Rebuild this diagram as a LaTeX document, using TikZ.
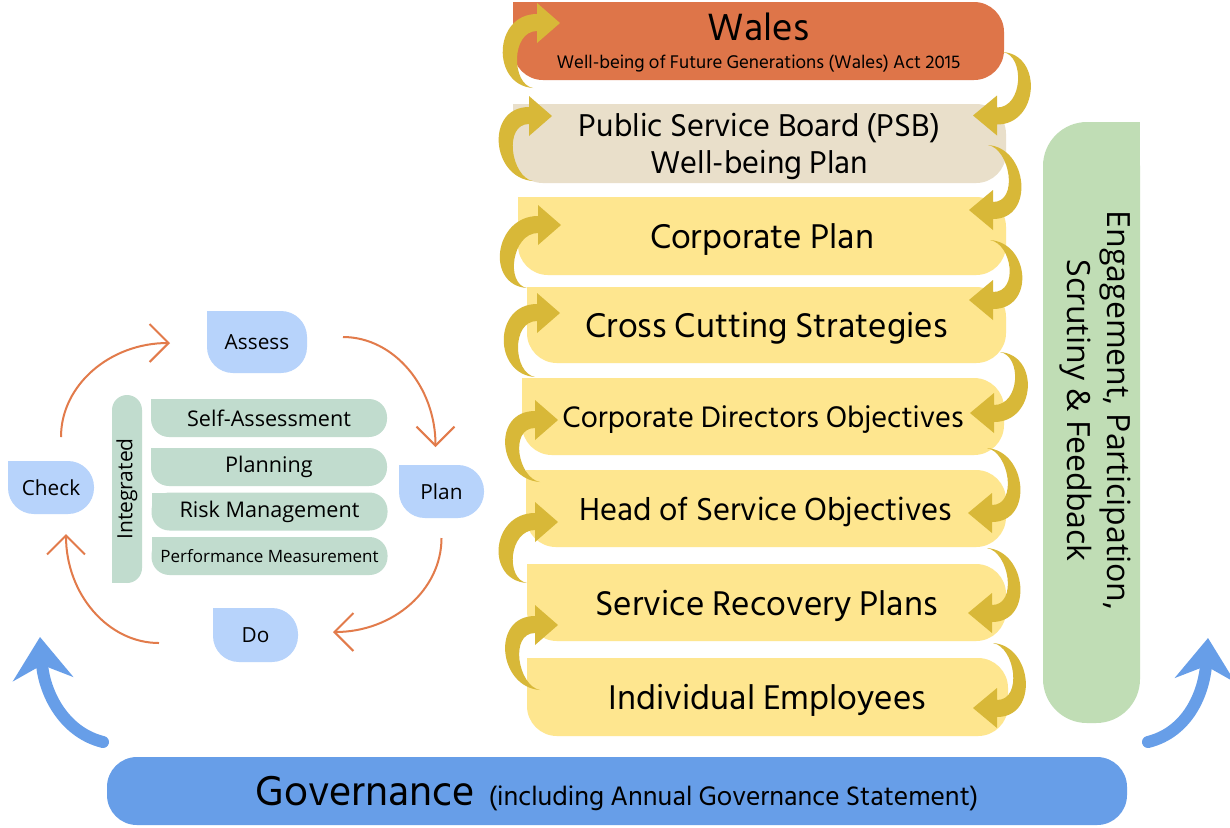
\documentclass[tikz,border=0pt]{standalone}
\usepackage{fontspec}
\setmainfont{Hind Siliguri}
\newfontfamily\opensans{Open Sans}
\usetikzlibrary{arrows.meta, positioning, calc, backgrounds}
\definecolor{cwales}{HTML}{DE7549}
\definecolor{cpsb}{HTML}{E9DFCA}
\definecolor{cplan}{HTML}{FEE68F}
\definecolor{ccurl}{HTML}{D8B838}
\definecolor{ceng}{HTML}{C0DDB5}
\definecolor{cgov}{HTML}{679EE8}
\definecolor{cpdca}{HTML}{B7D3FB}
\definecolor{csage}{HTML}{C1DCCE}
\definecolor{ccycle}{HTML}{E27B4B}
\tikzset{
  lvlbox/.style={fill=cplan, rounded corners=15pt, inner sep=0pt, outer sep=0pt,
                 align=center, text=black, text depth=0pt, font=\fontsize{17.6}{21}\selectfont},
  pdcabox/.style={fill=cpdca, rounded corners=13pt, inner sep=0pt, outer sep=0pt,
                  font=\opensans\fontsize{10.4}{12}\selectfont},
  sagebox/.style={fill=csage, rounded corners=9pt, inner sep=0pt, outer sep=0pt,
                  minimum width=118pt, minimum height=19pt,
                  font=\opensans\fontsize{10.8}{12}\selectfont},
  curl/.style={fill=ccurl},
  cyc/.style={draw=ccycle, line width=1pt, -{Straight Barb[length=9.5pt, width=19pt]}},
  govarr/.style={draw=cgov, line width=6pt, line cap=round,
                 -{Stealth[length=21pt, width=30pt, inset=7pt]}},
}
% downward curl: from #1 (tail shift #2) into #3 (tip shift #4)
\newcommand\downcurl[4]{%
  \coordinate (cs) at ($(#1.east)+(#2)$);
  \coordinate (ct) at ($(#3.east)+(#4)$);
  \fill[curl] (cs) .. controls +(40,3) and +(42,0) .. ($(ct)+(24,9)$)
    -- ($(ct)+(24,20)$) -- (ct) -- ($(ct)+(24,-20)$) -- ($(ct)+(24,-8)$)
    .. controls +(26,0) and +(22,4) .. (cs) -- cycle;
}
% upward curl: from #1 (tail shift #2) into #3 (tip shift #4)
\newcommand\upcurl[4]{%
  \coordinate (cs) at ($(#1.west)+(#2)$);
  \coordinate (ct) at ($(#3.west)+(#4)$);
  \fill[curl] (cs) .. controls +(-42,-3) and +(-44,0) .. ($(ct)+(-23,-9)$)
    -- ($(ct)+(-23,-20)$) -- (ct) -- ($(ct)+(-23,20)$) -- ($(ct)+(-23,8)$)
    .. controls +(-26,0) and +(-22,-4) .. (cs) -- cycle;
}
\begin{document}
\begin{tikzpicture}[x=0.5pt, y=-0.5pt]
  \useasboundingbox (0,0) rectangle (1230,827);
  \begin{scope}[on background layer]
    \fill[white] (0,0) rectangle (1230,827);
  \end{scope}

  \node[lvlbox, fill=cwales, minimum width=245.5pt, minimum height=39pt,
        font=\fontsize{9.4}{14}\selectfont] (wales) at (758.5,41)
    {{\fontsize{19.5}{19}\selectfont Wales}\\Well-being of Future Generations (Wales) Act 2015};
  \node[lvlbox, fill=cpsb, minimum width=246.5pt, minimum height=39.5pt,
        font=\fontsize{16.2}{18.5}\selectfont] (psb) at (759.5,143.5)
    {Public Service Board (PSB)\\Well-being Plan};
  \node[lvlbox, minimum width=244pt, minimum height=39pt] (corp) at (762,236) {Corporate Plan};
  \node[lvlbox, minimum width=239.5pt, minimum height=38pt] (cross) at (766.5,325) {Cross Cutting Strategies};
  \node[lvlbox, minimum width=241pt, minimum height=38.5pt,
        font=\fontsize{15.2}{18}\selectfont] (cdo) at (763,416.5) {Corporate Directors Objectives};
  \node[lvlbox, minimum width=240pt, minimum height=38.5pt,
        font=\fontsize{16.3}{19}\selectfont] (hos) at (766,508.5) {Head of Service Objectives};
  \node[lvlbox, minimum width=239.5pt, minimum height=38.5pt] (srp) at (766.5,602.5) {Service Recovery Plans};
  \node[lvlbox, minimum width=240.5pt, minimum height=39pt] (emp) at (767.5,697) {Individual Employees};

  \node[fill=ceng, rounded corners=22pt, minimum width=48.5pt, minimum height=300.5pt,
        inner sep=0pt, outer sep=0pt] (eng) at (1091.5,422.5) {};
  \node[rotate=-90, align=center, font=\opensans\fontsize{16}{20}\selectfont]
    (engtext) at ($(eng.center)+(4,-12)$) {Engagement, Participation,\\Scrutiny \& Feedback};

  \node[fill=cgov, rounded corners=15pt, minimum width=510pt, minimum height=34pt,
        inner sep=0pt, outer sep=0pt, text depth=0pt, font=\fontsize{13.7}{16}\selectfont] (gov) at (617,791)
    {{\fontsize{21.3}{24}\selectfont Governance}\enspace(including Annual Governance Statement)};

  \node[pdcabox, minimum width=50pt, minimum height=31pt] (assess) at (257,342) {Assess};
  \node[pdcabox, minimum width=42.5pt, minimum height=26.5pt] (plan) at (441.5,491.5) {Plan};
  \node[pdcabox, minimum width=43pt, minimum height=26.5pt] (check) at (51,487.5) {Check};
  \node[pdcabox, minimum width=42.5pt, minimum height=27pt] (do) at (255.5,635) {Do};

  \node[fill=csage, rounded corners=7.5pt, minimum width=15pt, minimum height=94pt,
        inner sep=0pt, outer sep=0pt] (intg) at (127,489) {};
  \node[rotate=90, font=\opensans\fontsize{10.5}{12}\selectfont] (intgtext) at (intg) {Integrated};
  \node[sagebox] (self) at (269,418) {Self-Assessment};
  \node[sagebox] (planning) at (269,467) {Planning};
  \node[sagebox] (risk) at (269.5,511.5) {Risk Management};
  \node[sagebox, font=\opensans\fontsize{8.5}{10}\selectfont] (perf) at (269.5,556) {Performance Measurement};

  \begin{scope}[on background layer]
    \foreach \n/\col in {wales/cwales, psb/cpsb, corp/cplan, cross/cplan,
                         cdo/cplan, hos/cplan, srp/cplan, emp/cplan}
      \fill[fill=\col] (\n.north west) rectangle ++(30,30);
    \foreach \n in {assess, plan, check, do}
      \fill[cpdca] (\n.north west) rectangle ++(26,26);
    \foreach \n in {self, planning, risk, perf}
      \fill[csage] (\n.north west) rectangle ++(18,18);
    \fill[ceng] (eng.north east) rectangle ++(-44,44);
    \fill[csage] (intg.south west) rectangle ++(15,-15);
  \end{scope}

  \draw[cyc] ($(check.north)+(10,-24)$) .. controls +(0,-52) and +(-60,0) .. ($(assess.west)+(-37,1)$);
  \draw[cyc] ($(assess.east)+(36,-5)$) .. controls +(51,0) and +(0,-60) .. ($(plan.north)+(-6,-18)$);
  \draw[cyc] ($(plan.south)+(0,20)$) .. controls +(0,52) and +(60,0) .. ($(do.east)+(35,-3)$);
  \draw[cyc] ($(do.west)+(-54,8)$) .. controls +(-51,0) and +(0,60) .. ($(check.south)+(15,20)$);

  \downcurl{wales}{-1,11}{psb}{-33,-28}
  \downcurl{psb}{-18,1.5}{corp}{-37,-26}
  \downcurl{corp}{-16,4}{cross}{-37,-25}
  \downcurl{cross}{-6,27}{cdo}{-34,-3.5}
  \downcurl{cdo}{-17,31.5}{hos}{-38,4.5}
  \downcurl{hos}{-19,39.5}{srp}{-38,10.5}
  \downcurl{srp}{-13,40.5}{emp}{-35,11}

  \upcurl{psb}{20,-55.5}{wales}{47,-18}
  \upcurl{corp}{15,-55}{psb}{39,-27.5}
  \upcurl{cross}{0,-37}{corp}{43,-11}
  \upcurl{cdo}{13,-39.5}{cross}{33,-12}
  \upcurl{hos}{14,-26.5}{cdo}{36,3.5}
  \upcurl{srp}{0,-19.5}{hos}{32,13.5}
  \upcurl{emp}{13,-7}{srp}{31,22.5}

  \coordinate (gl) at ($(gov.north west)+(-4,-15)$);
  \coordinate (glt) at ($(gov.north west)+(-67,-120)$);
  \draw[govarr] (gl) .. controls +(-40,-10) and +(4,55) .. (glt);
  \coordinate (gr) at ($(gov.north east)+(21,-15)$);
  \coordinate (grt) at ($(gov.north east)+(81,-119)$);
  \draw[govarr] (gr) .. controls +(40,-10) and +(-4,55) .. (grt);
\end{tikzpicture}
\end{document}
